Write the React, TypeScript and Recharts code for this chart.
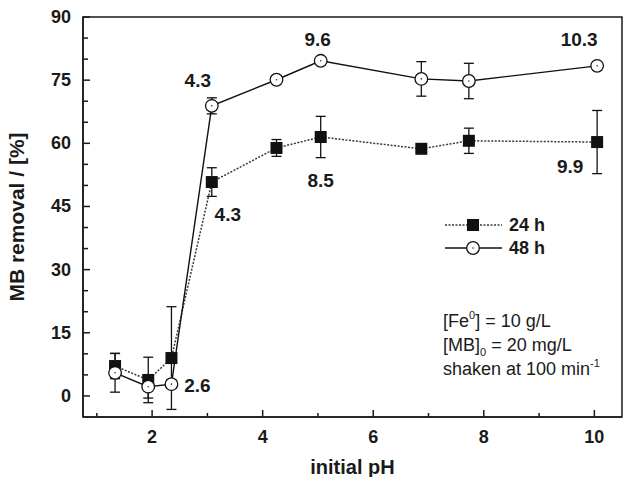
import React from "react"
import { ComposedChart, Line, XAxis, YAxis, ErrorBar, LabelList, ReferenceArea } from "recharts"

// initial pH of each batch
const initialPh = [1.33, 1.93, 2.35, 3.08, 4.25, 5.05, 6.87, 7.73, 10.05]

// MB removal (%) after 24 h and 48 h, with error bars
const removal24 = [7.1, 3.8, 9.0, 50.8, 58.9, 61.5, 58.7, 60.6, 60.3]
const error24 = [3.0, 5.4, 12.2, 3.4, 2.0, 4.9, 0.8, 3.0, 7.5]
const removal48 = [5.5, 2.2, 2.8, 68.9, 75.1, 79.6, 75.3, 74.8, 78.4]
const error48 = [4.6, 2.7, 1.0, 1.9, 0.8, 0.8, 4.1, 4.2, 0.8]

// final pH annotations
const finalPh24 = ["", "", "", "4.3", "", "8.5", "", "", "9.9"]
const finalPh48 = ["", "", "2.6", "4.3", "", "9.6", "", "", "10.3"]

const xTicks = [1, 2, 3, 4, 5, 6, 7, 8, 9, 10]
const yTicks = [0, 5, 10, 15, 20, 25, 30, 35, 40, 45, 50, 55, 60, 65, 70, 75, 80, 85, 90]

const data = initialPh.map((ph, i) => ({
  ph,
  r24: removal24[i],
  e24: error24[i],
  r48: removal48[i],
  e48: error48[i],
  l24: finalPh24[i],
  l48: finalPh48[i],
}))

// where each annotation sits relative to its point
const shift24: Record<number, [number, number]> = { 3: [16, 32], 5: [0, 43], 8: [-27, 24] }
const shift48: Record<number, [number, number]> = { 2: [26, 1], 3: [-14, -25], 5: [-3, -21], 8: [-18, -26] }

const FONT = '"Liberation Sans", Arial, sans-serif'
const INK = "#1a1a1a"

const XTick = ({ x, y, payload }: any) => {
  const major = payload.value % 2 === 0
  return (
    <g>
      <line x1={x} y1={y} x2={x} y2={y - (major ? 7 : 4)} stroke={INK} strokeWidth={1.5} />
      {major && (
        <text x={x} y={y + 20} textAnchor="middle" dominantBaseline="central" fontFamily={FONT} fontWeight="bold" fontSize={18} fill={INK}>
          {payload.value}
        </text>
      )}
    </g>
  )
}

const YTick = ({ x, y, payload }: any) => {
  const major = payload.value % 15 === 0
  return (
    <g>
      <line x1={x} y1={y} x2={x + (major ? 7 : 5)} y2={y} stroke={INK} strokeWidth={1.5} />
      {major && (
        <text x={x - 12} y={y} textAnchor="end" dominantBaseline="central" fontFamily={FONT} fontWeight="bold" fontSize={18} fill={INK}>
          {payload.value}
        </text>
      )}
    </g>
  )
}

const Square = (props: any) => {
  const { cx, cy, index } = props
  return <rect key={`sq-${index}`} x={cx - 6} y={cy - 6} width={12} height={12} fill="#111" />
}

const Circle = (props: any) => {
  const { cx, cy, index } = props
  return (
    <g key={`ci-${index}`}>
      <circle cx={cx} cy={cy} r={6.3} fill="#fff" stroke="#111" strokeWidth={1.3} />
      <circle cx={cx} cy={cy} r={0.8} fill="#333" />
    </g>
  )
}

const makeLabel = (shift: Record<number, [number, number]>) => (props: any) => {
  const { x, y, value, index } = props
  if (!value) return null
  const [dx, dy] = shift[index] || [0, -20]
  return (
    <text x={x + dx} y={y + dy} textAnchor="middle" dominantBaseline="central" fontFamily={FONT} fontWeight="bold" fontSize={19} fill={INK}>
      {value}
    </text>
  )
}

const YLabel = (props: any) => {
  const { viewBox } = props
  const cx = 24
  const cy = viewBox.y + viewBox.height / 2
  return (
    <text x={cx} y={cy} transform={`rotate(-90 ${cx} ${cy})`} textAnchor="middle" fontFamily={FONT} fontWeight="bold" fontSize={21} fill={INK}>
      MB removal / [%]
    </text>
  )
}

const XLabel = (props: any) => {
  const { viewBox } = props
  return (
    <text x={viewBox.x + viewBox.width / 2} y={474} textAnchor="middle" fontFamily={FONT} fontWeight="bold" fontSize={20} fill={INK}>
      initial pH
    </text>
  )
}

export default function App() {
  return (
    <div style={{ position: "absolute", left: 0, top: 0, width: 627, height: 477, background: "#fff" }}>
      <ComposedChart width={627} height={477} data={data} margin={{ top: 17, right: 5, left: 0, bottom: 0 }}>
        <ReferenceArea x1={0.75} x2={10.5} y1={-5} y2={90} fill="none" stroke={INK} strokeWidth={1.5} ifOverflow="visible" />
        <XAxis
          dataKey="ph"
          type="number"
          domain={[0.75, 10.5]}
          ticks={xTicks}
          interval={0}
          allowDataOverflow
          height={60}
          tickSize={0}
          tickMargin={0}
          tickLine={false}
          tick={<XTick />}
          axisLine={{ stroke: INK, strokeWidth: 1.5 }}
          label={<XLabel />}
        />
        <YAxis
          type="number"
          domain={[-5, 90]}
          ticks={yTicks}
          interval={0}
          allowDataOverflow
          width={83}
          tickSize={0}
          tickMargin={0}
          tickLine={false}
          tick={<YTick />}
          axisLine={{ stroke: INK, strokeWidth: 1.5 }}
          label={<YLabel />}
        />
        <Line
          dataKey="r24"
          stroke="#3a3a3a"
          strokeWidth={1.5}
          strokeDasharray="2 1.5"
          dot={Square}
          activeDot={false}
          isAnimationActive={false}
        >
          <ErrorBar dataKey="e24" width={5} stroke="#111" strokeWidth={1.3} direction="y" />
          <LabelList dataKey="l24" content={makeLabel(shift24)} />
        </Line>
        <Line
          dataKey="r48"
          stroke="#111"
          strokeWidth={1.4}
          dot={Circle}
          activeDot={false}
          isAnimationActive={false}
        >
          <ErrorBar dataKey="e48" width={5} stroke="#111" strokeWidth={1.3} direction="y" />
          <LabelList dataKey="l48" content={makeLabel(shift48)} />
        </Line>
      </ComposedChart>

      <svg width={627} height={477} style={{ position: "absolute", left: 0, top: 0, pointerEvents: "none" }}>
        <g fontFamily={FONT} fontWeight="bold" fontSize={18} fill={INK}>
          <line x1={445} y1={225} x2={502} y2={225} stroke="#3a3a3a" strokeWidth={1.5} strokeDasharray="2 1.5" />
          <rect x={467} y={219} width={12} height={12} fill="#111" />
          <text x={509} y={225} dominantBaseline="central">24 h</text>
          <line x1={445} y1={248} x2={502} y2={248} stroke="#111" strokeWidth={1.4} />
          <circle cx={473} cy={248} r={6.3} fill="#fff" stroke="#111" strokeWidth={1.3} />
          <circle cx={473} cy={248} r={0.8} fill="#333" />
          <text x={509} y={248} dominantBaseline="central">48 h</text>
        </g>
      </svg>

      <div style={{ position: "absolute", left: 443, top: 310, fontFamily: FONT, fontSize: 18, lineHeight: "22px", color: INK, whiteSpace: "nowrap" }}>
        <div>
          [Fe<span style={{ fontSize: 11, position: "relative", top: -8 }}>0</span>] = 10 g/L
        </div>
        <div>
          [MB]<span style={{ fontSize: 11, position: "relative", top: 5 }}>0</span> = 20 mg/L
        </div>
        <div>
          shaken at 100 min<span style={{ fontSize: 11, position: "relative", top: -8 }}>-1</span>
        </div>
      </div>
    </div>
  )
}
